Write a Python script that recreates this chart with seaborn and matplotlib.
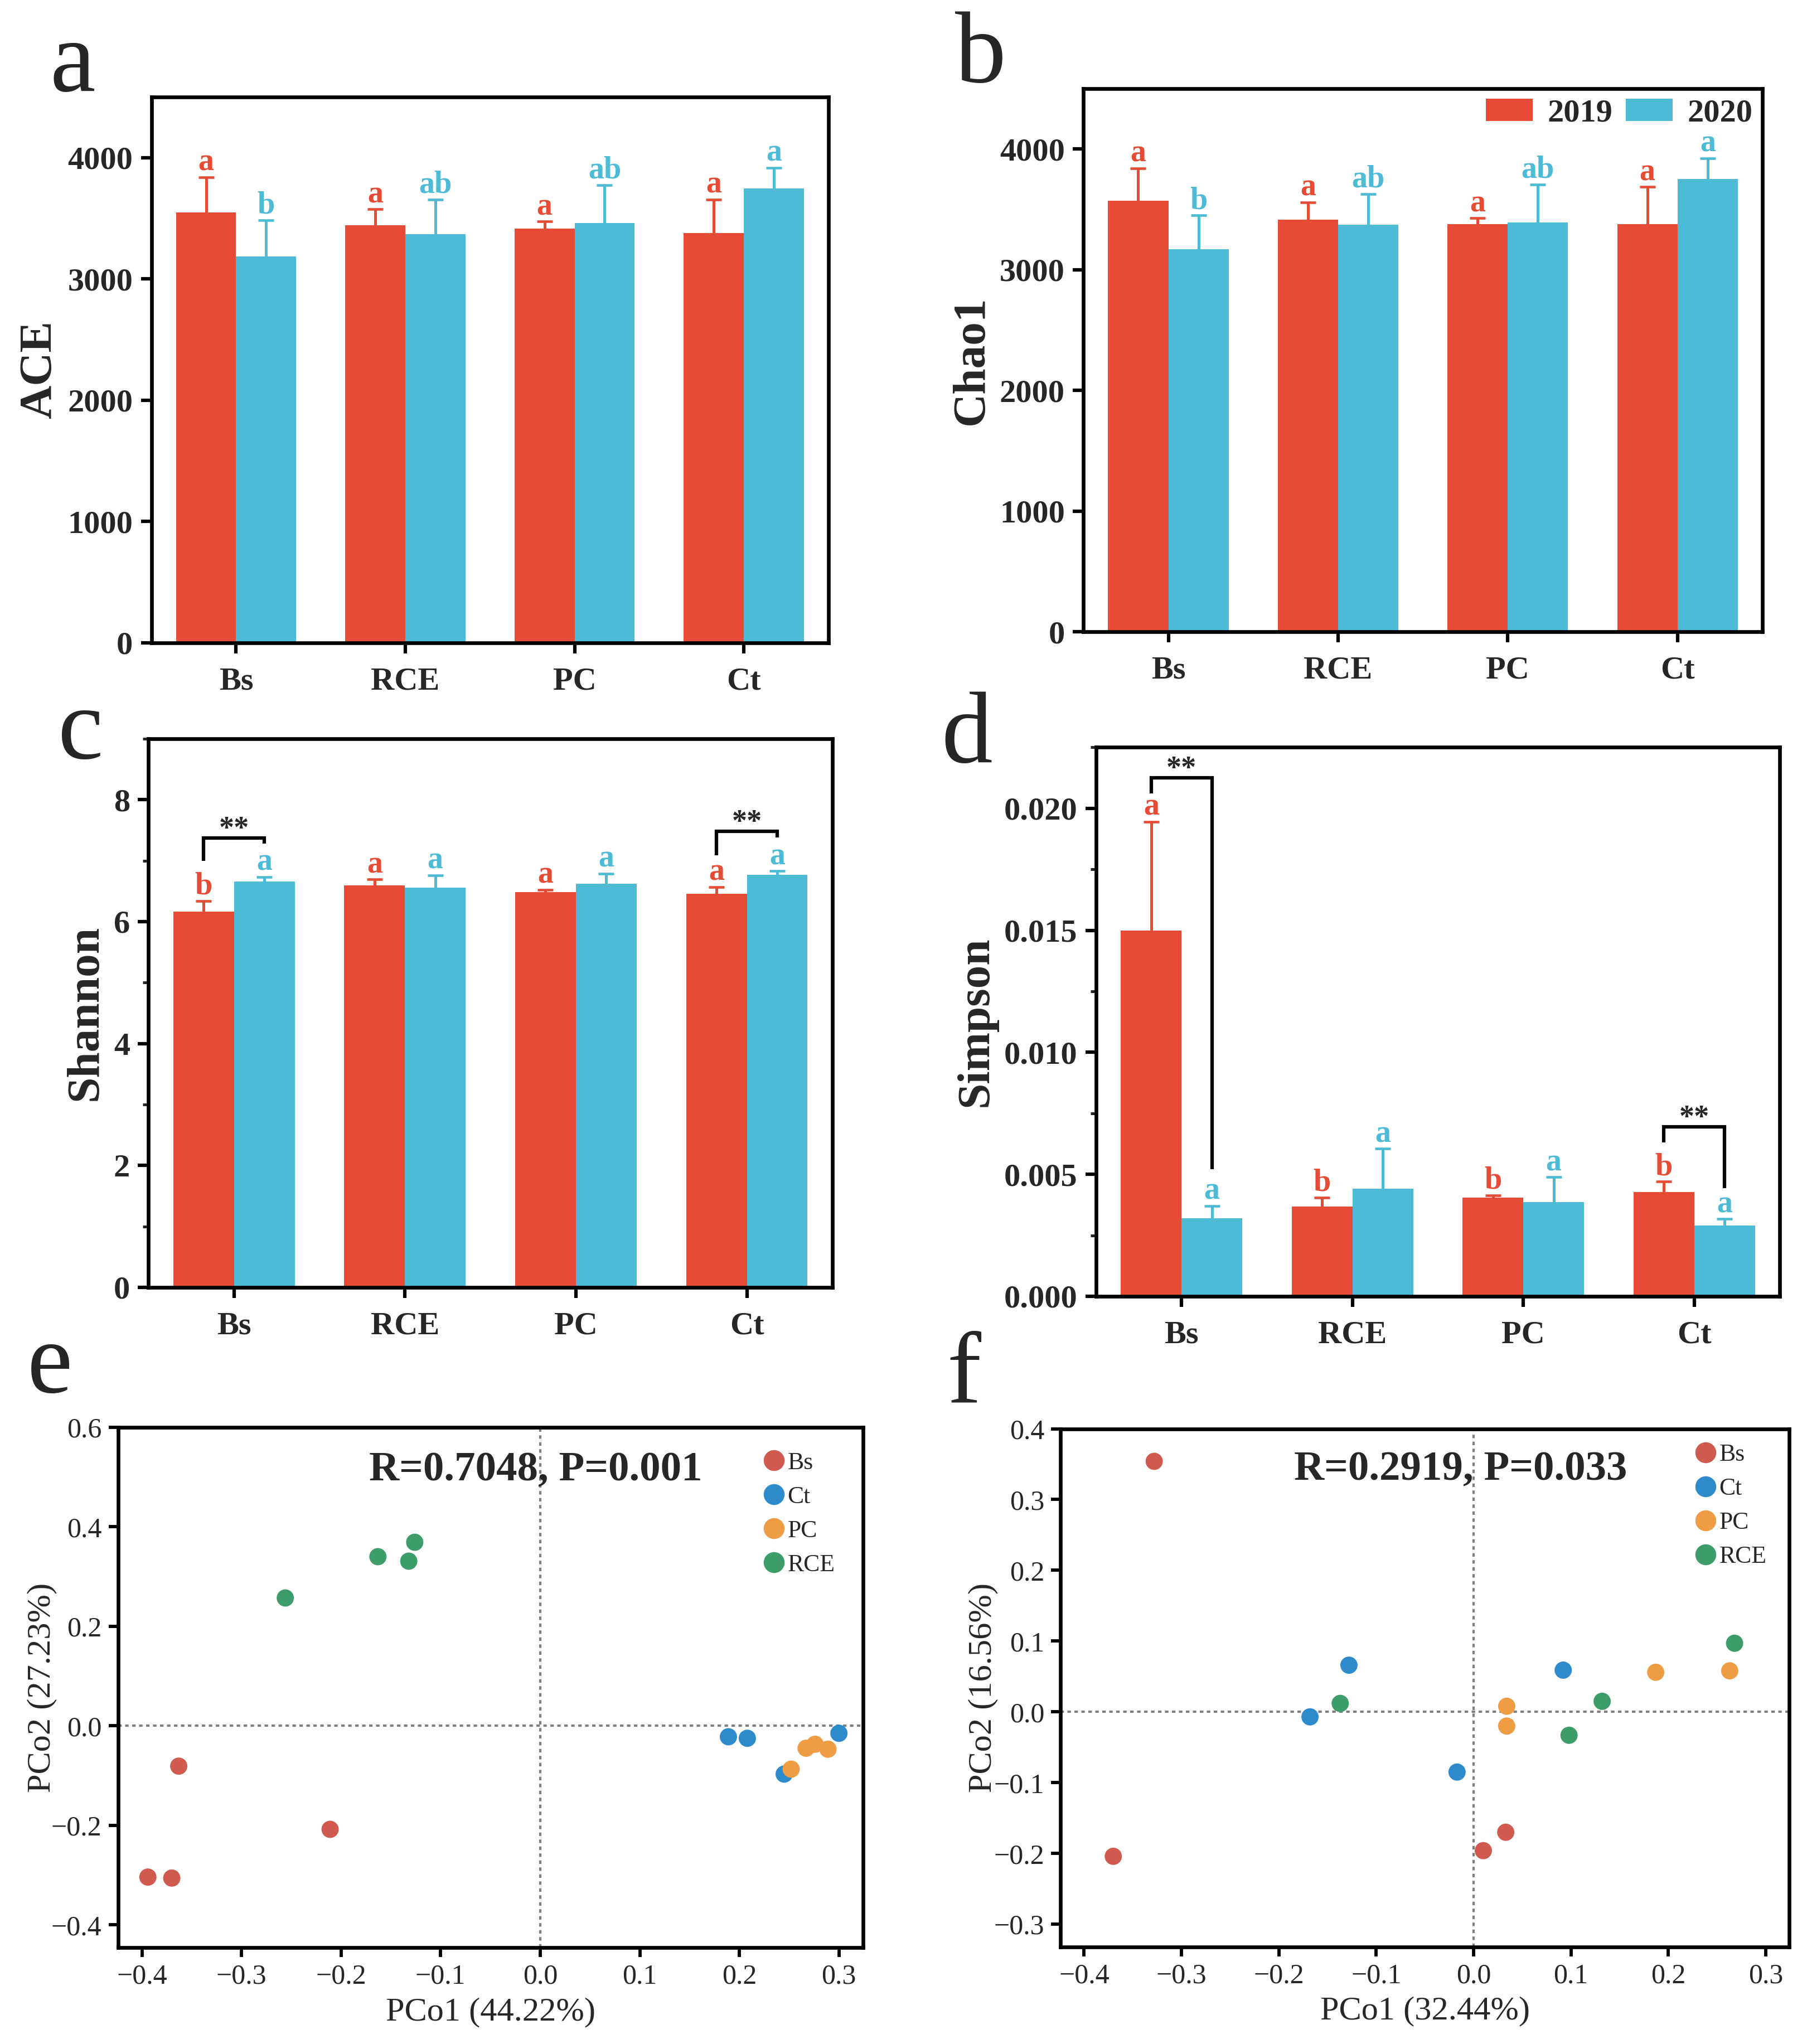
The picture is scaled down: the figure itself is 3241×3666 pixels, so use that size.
import numpy as np
import pandas as pd
import matplotlib
matplotlib.use("Agg")
import matplotlib.pyplot as plt
from matplotlib.ticker import MultipleLocator
from matplotlib.lines import Line2D
from matplotlib.patches import Patch
import seaborn as sns

# ---- data ----
sites = ["Bs", "RCE", "PC", "Ct"]
years = ["2019", "2020"]

ace_2019 = [3548, 3443, 3412, 3375]
ace_2020 = [3186, 3367, 3458, 3744]
ace_err_2019 = [290, 131, 61, 278]
ace_err_2020 = [298, 286, 316, 173]
ace_let_2019 = ["a", "a", "a", "a"]
ace_let_2020 = ["b", "ab", "ab", "a"]

chao1_2019 = [3571, 3416, 3379, 3379]
chao1_2020 = [3171, 3371, 3390, 3751]
chao1_err_2019 = [271, 143, 48, 308]
chao1_err_2020 = [279, 256, 316, 174]
chao1_let_2019 = ["a", "a", "a", "a"]
chao1_let_2020 = ["b", "ab", "ab", "a"]

shannon_2019 = [6.16, 6.59, 6.48, 6.46]
shannon_2020 = [6.66, 6.56, 6.62, 6.77]
shannon_err_2019 = [0.18, 0.10, 0.04, 0.11]
shannon_err_2020 = [0.07, 0.20, 0.17, 0.06]
shannon_let_2019 = ["b", "a", "a", "a"]
shannon_let_2020 = ["a", "a", "a", "a"]

simpson_2019 = [0.0150, 0.00368, 0.00405, 0.00428]
simpson_2020 = [0.0032, 0.0044, 0.00385, 0.0029]
simpson_err_2019 = [0.00445, 0.00037, 0.00009, 0.00042]
simpson_err_2020 = [0.0005, 0.00165, 0.00103, 0.00027]
simpson_let_2019 = ["a", "b", "b", "b"]
simpson_let_2020 = ["a", "a", "a", "a"]

groups = ["Bs", "Ct", "PC", "RCE"]

pcoa_e_group = ["Bs"] * 4 + ["RCE"] * 4 + ["Ct"] * 4 + ["PC"] * 4
pcoa_e_x = [-0.394, -0.370, -0.363, -0.211,
            -0.256, -0.163, -0.132, -0.126,
            0.189, 0.208, 0.245, 0.300,
            0.252, 0.267, 0.276, 0.289]
pcoa_e_y = [-0.304, -0.306, -0.081, -0.208,
            0.257, 0.340, 0.331, 0.369,
            -0.022, -0.025, -0.097, -0.015,
            -0.087, -0.045, -0.037, -0.047]

pcoa_f_group = ["Bs"] * 4 + ["Ct"] * 4 + ["PC"] * 4 + ["RCE"] * 4
pcoa_f_x = [-0.328, -0.370, 0.010, 0.033,
            -0.128, -0.168, -0.017, 0.092,
            0.034, 0.034, 0.187, 0.263,
            -0.137, 0.098, 0.132, 0.268]
pcoa_f_y = [0.354, -0.204, -0.196, -0.170,
            0.066, -0.007, -0.085, 0.059,
            0.008, -0.020, 0.056, 0.058,
            0.012, -0.033, 0.015, 0.097]

# ---- style ----
red = "#E64B35"
blue = "#4DBBD5"
bar_colors = [red, blue]
pcoa_colors = {"Bs": "#D05A4E", "Ct": "#2E8BCB", "PC": "#EE9D45", "RCE": "#3C9C6A"}

sns.set_style("ticks")
plt.rcParams["font.family"] = ["Liberation Serif", "DejaVu Serif"]
plt.rcParams["mathtext.default"] = "regular"

fig = plt.figure(figsize=(3241 / 300, 3666 / 300), dpi=300)


def style_spines(ax):
    for sp in ax.spines.values():
        sp.set_visible(True)
        sp.set_linewidth(1.6)
        sp.set_color("black")


def bar_panel(ax, v19, v20, e19, e20, l19, l20, ylabel, ymax, major, minor=None):
    df = pd.DataFrame({"site": sites * 2,
                       "year": [years[0]] * 4 + [years[1]] * 4,
                       "value": v19 + v20})
    sns.barplot(data=df, x="site", y="value", hue="year", order=sites,
                hue_order=years, palette=bar_colors, saturation=1, width=0.71,
                errorbar=None, legend=False, edgecolor="none", ax=ax)
    for cont, errs, lets, col in zip(ax.containers, [e19, e20], [l19, l20], bar_colors):
        for bar, err, let in zip(cont, errs, lets):
            x = bar.get_x() + bar.get_width() / 2
            h = bar.get_height()
            _, caps, _ = ax.errorbar(x, h, yerr=[[0], [err]], fmt="none", ecolor=col,
                                     elinewidth=1.2, capsize=3.4, capthick=1.1)
            caps[0].set_visible(False)
            ax.annotate(let, (x, h + err), xytext=(0, 2.9), textcoords="offset points",
                        ha="center", va="baseline", color=col, fontsize=13.5,
                        fontweight="bold")
    ax.set_xlim(-0.5, 3.5)
    ax.set_ylim(0, ymax)
    ax.yaxis.set_major_locator(MultipleLocator(major))
    if minor:
        ax.yaxis.set_minor_locator(MultipleLocator(minor))
    ax.set_xlabel("")
    ax.set_ylabel(ylabel, fontsize=20, fontweight="bold", labelpad=3)
    ax.tick_params(axis="both", which="major", direction="out", length=4.5, width=1.5,
                   labelsize=14, color="black")
    ax.tick_params(axis="x", pad=6)
    ax.tick_params(axis="y", which="minor", direction="out", length=2.5, width=1.2)
    for lbl in ax.get_xticklabels() + ax.get_yticklabels():
        lbl.set_fontweight("bold")
    style_spines(ax)


def bracket(ax, i, top, left_bottom, right_bottom):
    b1 = ax.containers[0][i]
    b2 = ax.containers[1][i]
    x1 = b1.get_x() + b1.get_width() / 2
    x2 = b2.get_x() + b2.get_width() / 2
    ax.plot([x1, x1, x2, x2], [left_bottom, top, top, right_bottom], color="black",
            lw=1.5, solid_joinstyle="miter", solid_capstyle="butt")
    ax.annotate("**", ((x1 + x2) / 2, top), xytext=(0, 0.5), textcoords="offset points",
                ha="center", va="baseline", fontsize=13, fontweight="bold")


def pcoa_panel(ax, xs, ys, grp, xlabel, ylabel, ylim, yticks, stat, stat_xy, leg_anchor):
    ax.axvline(0, color="#7f7f7f", lw=1.0, ls=(0, (1.5, 1.5)), zorder=1)
    ax.axhline(0, color="#7f7f7f", lw=1.0, ls=(0, (1.5, 1.5)), zorder=1)
    df = pd.DataFrame({"x": xs, "y": ys, "group": grp})
    sns.scatterplot(data=df, x="x", y="y", hue="group", hue_order=groups,
                    palette=pcoa_colors, s=55, edgecolor="none", legend=False,
                    ax=ax, zorder=3)
    ax.set_xlim(-0.424, 0.324)
    ax.set_ylim(*ylim)
    ax.set_xticks(np.round(np.arange(-0.4, 0.31, 0.1), 1))
    ax.set_yticks(yticks)
    ax.tick_params(axis="both", direction="out", length=4, width=1.4, labelsize=12,
                   pad=3, color="black")
    ax.set_xlabel(xlabel, fontsize=14.5)
    ax.set_ylabel(ylabel, fontsize=14.5)
    ax.xaxis.set_label_coords(0.5, -0.095)
    style_spines(ax)
    ax.text(stat_xy[0], stat_xy[1], stat, transform=ax.transAxes, ha="center",
            va="center", fontsize=18, fontweight="bold")
    handles = [Line2D([], [], marker="o", ls="none", markersize=9,
                      markerfacecolor=pcoa_colors[g], markeredgecolor="none", label=g)
               for g in groups]
    ax.legend(handles=handles, loc="upper left", bbox_to_anchor=leg_anchor, frameon=False,
              fontsize=10.5, handlelength=0.9, handletextpad=0.1, labelspacing=0.48,
              borderaxespad=0)


# ---- a: ACE ----
ax_a = fig.add_axes([0.0838, 0.6856, 0.3747, 0.2670])
bar_panel(ax_a, ace_2019, ace_2020, ace_err_2019, ace_err_2020, ace_let_2019, ace_let_2020,
          "ACE", 4500, 1000)

# ---- b: Chao1 ----
ax_b = fig.add_axes([0.5996, 0.6909, 0.3757, 0.2657])
bar_panel(ax_b, chao1_2019, chao1_2020, chao1_err_2019, chao1_err_2020, chao1_let_2019,
          chao1_let_2020, "Chao1", 4500, 1000)
leg_handles = [Patch(facecolor=c, edgecolor="none", label=y) for c, y in zip(bar_colors, years)]
ax_b.legend(handles=leg_handles, loc="upper right", ncol=2, frameon=False,
            prop={"size": 14, "weight": "bold"}, handlelength=1.45, handleheight=0.7,
            handletextpad=0.45, columnspacing=0.4, borderaxespad=0.0, borderpad=0.3)

# ---- c: Shannon ----
ax_c = fig.add_axes([0.0822, 0.3702, 0.3784, 0.2684])
bar_panel(ax_c, shannon_2019, shannon_2020, shannon_err_2019, shannon_err_2020,
          shannon_let_2019, shannon_let_2020, "Shannon", 9, 2, 1)
bracket(ax_c, 0, 7.37, 7.00, 7.28)
bracket(ax_c, 3, 7.48, 7.09, 7.38)

# ---- d: Simpson ----
ax_d = fig.add_axes([0.6066, 0.3658, 0.3783, 0.2686])
bar_panel(ax_d, simpson_2019, simpson_2020, simpson_err_2019, simpson_err_2020,
          simpson_let_2019, simpson_let_2020, "Simpson", 0.0225, 0.005, 0.0025)
bracket(ax_d, 0, 0.02124, 0.0206, 0.0052)
bracket(ax_d, 3, 0.00694, 0.0063, 0.00444)

# ---- e: PCoA 2019 ----
ax_e = fig.add_axes([0.0653, 0.0471, 0.4122, 0.2546])
pcoa_panel(ax_e, pcoa_e_x, pcoa_e_y, pcoa_e_group, "PCo1 (44.22%)", "PCo2 (27.23%)",
           (-0.446, 0.6), np.round(np.arange(-0.4, 0.61, 0.2), 1),
           "R=0.7048, P=0.001", (0.561, 0.918), (0.853, 0.972))
ax_e.yaxis.set_label_coords(-0.082, 0.5)

# ---- f: PCoA 2020 ----
ax_f = fig.add_axes([0.5870, 0.0475, 0.4031, 0.2535])
pcoa_panel(ax_f, pcoa_f_x, pcoa_f_y, pcoa_f_group, "PCo1 (32.44%)", "PCo2 (16.56%)",
           (-0.332, 0.4), np.round(np.arange(-0.3, 0.41, 0.1), 1),
           "R=0.2919, P=0.033", (0.549, 0.921), (0.857, 0.99))
ax_f.yaxis.set_label_coords(-0.086, 0.5)

# ---- panel letters ----
for letter, (lx, ly) in zip("abcdef", [(0.0275, 0.9555), (0.5285, 0.9600),
                                       (0.0320, 0.6290), (0.5210, 0.6270),
                                       (0.0150, 0.3190), (0.5240, 0.3140)]):
    fig.text(lx, ly, letter, fontsize=44, ha="left", va="baseline")

fig.savefig("out.png", dpi=300)
